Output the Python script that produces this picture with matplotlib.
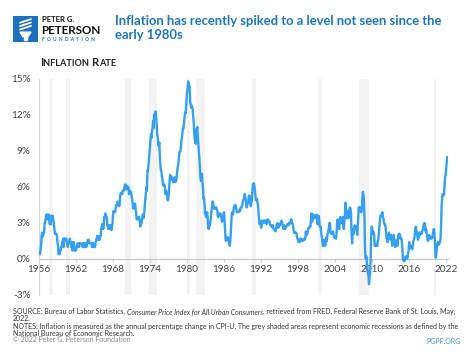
import matplotlib
matplotlib.use("Agg")
import matplotlib.pyplot as plt
from matplotlib.text import Annotation
from matplotlib.patches import Rectangle, Polygon
import numpy as np

# monthly CPI-U change over 12 months, %, Jan 1956 .. Apr 2022
inflation = [
    0.4, 0.4, 0.4, 0.8, 1.1, 1.9, 2.2, 1.9, 1.9, 2.2, 2.2, 3.0,   # 1956
    3.0, 3.4, 3.7, 3.7, 3.7, 3.3, 3.3, 3.7, 3.3, 2.9, 3.3, 2.9,   # 1957
    3.6, 3.3, 3.6, 3.6, 3.2, 2.9, 2.5, 2.1, 2.1, 2.1, 2.1, 1.8,   # 1958
    1.4, 1.1, 0.4, 0.4, 0.4, 0.7, 0.7, 1.0, 1.0, 1.4, 1.4, 1.7,   # 1959
    1.0, 1.7, 1.7, 1.7, 1.7, 1.7, 1.4, 1.4, 1.0, 1.4, 1.4, 1.4,   # 1960
    1.7, 1.4, 1.4, 1.0, 1.0, 0.7, 1.4, 1.0, 1.4, 0.7, 0.7, 0.7,   # 1961
    0.7, 1.0, 1.0, 1.3, 1.3, 1.3, 1.0, 1.3, 1.3, 1.3, 1.3, 1.3,   # 1962
    1.3, 1.0, 1.3, 1.0, 1.0, 1.3, 1.3, 1.3, 1.0, 1.3, 1.3, 1.6,   # 1963
    1.6, 1.6, 1.3, 1.3, 1.3, 1.3, 1.3, 1.0, 1.3, 1.0, 1.3, 1.0,   # 1964
    1.0, 1.0, 1.3, 1.6, 1.6, 1.9, 1.6, 1.9, 1.6, 1.9, 1.6, 1.9,   # 1965
    1.9, 2.6, 2.6, 2.9, 2.9, 2.5, 2.9, 3.5, 3.5, 3.8, 3.5, 3.5,   # 1966
    3.5, 2.8, 2.8, 2.5, 2.8, 2.8, 2.8, 2.5, 2.8, 2.4, 2.7, 3.0,   # 1967
    3.7, 4.0, 3.9, 3.9, 3.9, 4.2, 4.5, 4.5, 4.5, 4.8, 4.7, 4.7,   # 1968
    4.4, 4.7, 5.3, 5.5, 5.5, 5.5, 5.4, 5.7, 5.7, 5.7, 5.9, 6.2,   # 1969
    6.2, 6.2, 5.8, 6.1, 6.0, 6.0, 6.0, 5.4, 5.7, 5.6, 5.6, 5.6,   # 1970
    5.3, 5.0, 4.7, 4.2, 4.4, 4.6, 4.4, 4.6, 4.1, 3.8, 3.3, 3.3,   # 1971
    3.3, 3.5, 3.5, 3.5, 3.2, 2.7, 3.0, 2.9, 3.2, 3.4, 3.7, 3.4,   # 1972
    3.7, 3.9, 4.6, 5.1, 5.5, 6.0, 5.7, 7.4, 7.4, 7.8, 8.3, 8.7,   # 1973
    9.4, 10.0, 10.4, 10.1, 10.7, 10.9, 11.5, 10.9, 12.0, 12.1, 12.2, 12.3,   # 1974
    11.8, 11.2, 10.3, 10.2, 9.5, 9.4, 9.7, 8.6, 7.9, 7.4, 7.4, 6.9,   # 1975
    6.7, 6.3, 6.1, 6.1, 6.2, 6.0, 5.4, 5.7, 5.5, 5.5, 4.9, 4.9,   # 1976
    5.2, 5.9, 6.4, 7.0, 6.7, 6.9, 6.8, 6.6, 6.6, 6.4, 6.7, 6.7,   # 1977
    6.8, 6.4, 6.6, 6.5, 7.0, 7.4, 7.7, 7.9, 8.3, 8.9, 8.9, 9.0,   # 1978
    9.3, 9.9, 10.1, 10.5, 10.9, 10.9, 11.3, 11.8, 12.2, 12.1, 12.6, 13.3,   # 1979
    13.9, 14.2, 14.8, 14.7, 14.4, 14.4, 13.1, 12.9, 12.6, 12.8, 12.6, 12.5,   # 1980
    11.8, 11.4, 10.5, 10.0, 9.8, 9.6, 10.8, 10.8, 11.0, 10.1, 9.6, 8.9,   # 1981
    8.4, 7.6, 6.8, 6.5, 6.7, 7.1, 6.4, 5.9, 5.0, 5.1, 4.6, 3.8,   # 1982
    3.7, 3.5, 3.6, 3.9, 3.5, 2.6, 2.5, 2.6, 2.9, 2.9, 3.3, 3.8,   # 1983
    4.2, 4.6, 4.8, 4.6, 4.2, 4.2, 4.2, 4.3, 4.3, 4.3, 4.1, 4.0,   # 1984
    3.5, 3.5, 3.7, 3.7, 3.8, 3.8, 3.6, 3.4, 3.1, 3.2, 3.5, 3.8,   # 1985
    3.9, 3.1, 2.3, 1.6, 1.5, 1.8, 1.6, 1.6, 1.8, 1.5, 1.3, 1.1,   # 1986
    1.5, 2.1, 3.0, 3.8, 3.9, 3.7, 3.9, 4.3, 4.4, 4.5, 4.5, 4.4,   # 1987
    4.1, 3.9, 3.9, 3.9, 3.9, 4.0, 4.1, 4.0, 4.2, 4.3, 4.3, 4.4,   # 1988
    4.7, 4.8, 5.0, 5.1, 5.4, 5.2, 5.0, 4.7, 4.3, 4.5, 4.7, 4.7,   # 1989
    5.2, 5.3, 5.2, 4.7, 4.4, 4.7, 4.8, 5.6, 6.2, 6.3, 6.3, 6.1,   # 1990
    5.7, 5.3, 4.9, 4.9, 5.0, 4.7, 4.5, 3.8, 3.4, 2.9, 3.0, 3.1,   # 1991
    2.6, 2.8, 3.2, 3.2, 3.0, 3.1, 3.2, 3.2, 3.0, 3.2, 3.1, 2.9,   # 1992
    3.3, 3.3, 3.1, 3.2, 3.2, 3.0, 2.8, 2.8, 2.7, 2.8, 2.7, 2.8,   # 1993
    2.5, 2.5, 2.5, 2.4, 2.3, 2.5, 2.8, 2.9, 3.0, 2.6, 2.7, 2.7,   # 1994
    2.8, 2.9, 2.9, 3.1, 3.2, 3.0, 2.8, 2.6, 2.5, 2.8, 2.6, 2.5,   # 1995
    2.7, 2.7, 2.8, 2.9, 2.9, 2.8, 3.0, 2.9, 3.0, 3.0, 3.3, 3.3,   # 1996
    3.0, 3.0, 2.8, 2.5, 2.2, 2.3, 2.2, 2.2, 2.2, 2.1, 1.8, 1.7,   # 1997
    1.6, 1.4, 1.4, 1.4, 1.7, 1.7, 1.7, 1.6, 1.5, 1.5, 1.6, 1.6,   # 1998
    1.7, 1.6, 1.7, 2.3, 2.1, 2.0, 2.1, 2.3, 2.6, 2.6, 2.6, 2.7,   # 1999
    2.7, 3.2, 3.8, 3.1, 3.2, 3.7, 3.7, 3.4, 3.5, 3.5, 3.5, 3.4,   # 2000
    3.7, 3.5, 2.9, 3.3, 3.6, 3.3, 2.7, 2.7, 2.7, 2.1, 1.9, 1.6,   # 2001
    1.1, 1.1, 1.5, 1.6, 1.2, 1.1, 1.5, 1.8, 1.5, 2.0, 2.2, 2.4,   # 2002
    2.6, 3.0, 3.0, 2.2, 2.1, 2.1, 2.1, 2.2, 2.3, 2.0, 1.8, 1.9,   # 2003
    1.9, 1.7, 1.7, 2.3, 3.1, 3.3, 3.0, 2.7, 2.5, 3.2, 3.5, 3.3,   # 2004
    3.0, 3.0, 3.2, 3.5, 2.8, 2.5, 3.2, 3.6, 4.7, 4.4, 3.5, 3.4,   # 2005
    4.0, 3.6, 3.4, 3.6, 4.2, 4.3, 4.2, 3.8, 2.1, 1.3, 2.0, 2.5,   # 2006
    2.1, 2.4, 2.8, 2.6, 2.7, 2.7, 2.4, 2.0, 2.8, 3.5, 4.3, 4.1,   # 2007
    4.3, 4.0, 4.0, 3.9, 4.2, 5.0, 5.6, 5.4, 4.9, 3.7, 1.1, 0.1,   # 2008
    0.0, 0.2, -0.4, -0.7, -1.3, -1.4, -2.1, -1.5, -1.3, -0.2, 1.8, 2.7,   # 2009
    2.6, 2.1, 2.3, 2.2, 2.0, 1.1, 1.2, 1.1, 1.1, 1.2, 1.1, 1.5,   # 2010
    1.6, 2.1, 2.7, 3.2, 3.6, 3.6, 3.6, 3.8, 3.9, 3.5, 3.4, 3.0,   # 2011
    2.9, 2.9, 2.7, 2.3, 1.7, 1.7, 1.4, 1.7, 2.0, 2.2, 1.8, 1.7,   # 2012
    1.6, 2.0, 1.5, 1.1, 1.4, 1.8, 2.0, 1.5, 1.2, 1.0, 1.2, 1.5,   # 2013
    1.6, 1.1, 1.5, 2.0, 2.1, 2.1, 2.0, 1.7, 1.7, 1.7, 1.3, 0.8,   # 2014
    -0.1, 0.0, -0.1, -0.2, 0.0, 0.2, 0.2, 0.2, 0.0, 0.2, 0.5, 0.7,   # 2015
    1.4, 1.0, 0.9, 1.1, 1.0, 1.0, 0.8, 1.1, 1.5, 1.6, 1.7, 2.1,   # 2016
    2.5, 2.7, 2.4, 2.2, 1.9, 1.6, 1.7, 1.9, 2.2, 2.0, 2.2, 2.1,   # 2017
    2.1, 2.2, 2.4, 2.5, 2.8, 2.9, 3.0, 2.7, 2.3, 2.5, 2.2, 1.9,   # 2018
    1.6, 1.5, 1.9, 2.0, 1.8, 1.7, 1.8, 1.8, 1.7, 1.8, 2.1, 2.3,   # 2019
    2.5, 2.3, 1.5, 0.3, 0.1, 0.6, 1.0, 1.3, 1.4, 1.2, 1.2, 1.4,   # 2020
    1.4, 1.7, 2.6, 4.2, 5.0, 5.4, 5.4, 5.3, 5.4, 6.2, 6.8, 7.0,   # 2021
    7.5, 7.9, 8.5, 8.3,                                           # 2022
]

# NBER recessions (start, end) in decimal years
recession_start = [1957.6, 1960.3, 1969.9, 1973.85, 1980.0, 1981.5, 1990.5, 2001.2, 2007.9, 2020.1]
recession_end = [1958.3, 1961.1, 1970.9, 1975.2, 1980.5, 1982.85, 1991.2, 2001.85, 2009.5, 2020.35]

year_ticks = [1956, 1962, 1968, 1974, 1980, 1986, 1992, 1998, 2004, 2010, 2016, 2022]
pct_ticks = [-3, 0, 3, 6, 9, 12, 15]

BLUE_LINE = "#35a0f2"
TITLE_BLUE = "#1f75be"
LOGO_BLUE = "#1d6fc0"

plt.rcParams["font.family"] = ["Lato", "DejaVu Sans"]

W, H = 474, 355
fig = plt.figure(figsize=(W / 100, H / 100), dpi=100)


def fx(px):
    return px / W


def fy(py):
    return 1 - py / H


def chain(prev, txt, **kw):
    # put txt right after the previous text, on the same baseline
    return fig.add_artist(Annotation(txt, xy=(1, 0), xycoords=prev,
                                     ha="left", va="bottom", **kw))


# ---- chart
ax = fig.add_axes([fx(39), fy(295), fx(447.7) - fx(39), fy(79) - fy(295)])
t = 1956 + np.arange(len(inflation)) / 12.0

for s, e in zip(recession_start, recession_end):
    ax.axvspan(s, e, color="#f3f3f3", lw=0, zorder=0)

ax.plot(t, inflation, color=BLUE_LINE, lw=1.7, zorder=3, solid_joinstyle="round")

ax.set_xlim(1956, 2022.25)
ax.set_ylim(-3, 15)
ax.set_yticks(pct_ticks)
ax.set_yticklabels(["%d%%" % v for v in pct_ticks])
ax.set_xticks(year_ticks)
ax.set_xticklabels([str(y) for y in year_ticks])

for side in ["top", "right"]:
    ax.spines[side].set_visible(False)
ax.spines["left"].set_color("#d6d6d6")
ax.spines["left"].set_linewidth(0.8)
ax.spines["bottom"].set_position(("data", 0))
ax.spines["bottom"].set_color("#c8c8c8")
ax.spines["bottom"].set_linewidth(0.9)
ax.spines["bottom"].set_zorder(2)

ax.tick_params(axis="y", length=0, pad=6, labelsize=7.2, labelcolor="#444444")
ax.tick_params(axis="x", length=2.5, width=0.8, color="#c8c8c8", pad=2,
               labelsize=7.2, labelcolor="#444444")
ax.patch.set_visible(False)

# ---- header
title = ("Inflation has recently spiked to a level not seen since the\n"
         "early 1980s")
fig.text(fx(115), fy(15), title, color=TITLE_BLUE, fontsize=9.4,
         fontweight="bold", va="top", ha="left", linespacing=1.2)

# logo
logo = fig.add_axes([fx(13), fy(42), fx(38) - fx(13), fy(16) - fy(42)])
logo.set_xlim(0, 1)
logo.set_ylim(0, 1)
logo.axis("off")
logo.add_patch(Rectangle((0, 0), 1, 1, color=LOGO_BLUE))
logo.add_patch(Polygon([(0.28, 0.38), (0.72, 0.38), (0.6, 0.2), (0.4, 0.2)], color="white"))
logo.add_patch(Rectangle((0.44, 0.08), 0.12, 0.12, color="white"))
for off in [0.0, 0.13, 0.26]:
    logo.plot([0.28, 0.72], [0.48 + off, 0.62 + off], color="white", lw=1.3,
              solid_capstyle="round")

fig.text(fx(42), fy(22.5), "PETER G.", fontsize=5.6, fontweight="bold", color="#111111",
         ha="left", va="baseline")
fig.text(fx(41.5), fy(33.5), "PETERSON", fontsize=8.4, fontweight="bold", color="#111111",
         ha="left", va="baseline")
fig.text(fx(42.5), fy(41), "F  O  U  N  D  A  T  I  O  N", fontsize=3.5, fontweight="bold",
         color=LOGO_BLUE, ha="left", va="baseline")

# small-caps subtitle
sub = fig.text(fx(40), fy(66), "I", fontsize=8.2, fontweight="bold", color="#222222",
               ha="left", va="baseline")
sub = chain(sub, "NFLATION ", fontsize=6.6, fontweight="bold", color="#222222")
sub = chain(sub, "R", fontsize=8.2, fontweight="bold", color="#222222")
chain(sub, "ATE", fontsize=6.6, fontweight="bold", color="#222222")

# ---- footer
FOOT = 5.0
FOOT_C = "#333333"
a = fig.text(fx(13), fy(314), "SOURCE: Bureau of Labor Statistics, ", fontsize=FOOT,
             color=FOOT_C, ha="left", va="baseline")
b = chain(a, "Consumer Price Index for All Urban Consumers", fontsize=FOOT,
          color=FOOT_C, style="italic")
chain(b, ", retrieved from FRED, Federal Reserve Bank of St. Louis, May,",
      fontsize=FOOT, color=FOOT_C)
fig.text(fx(13), fy(321), "2022.", fontsize=FOOT, color=FOOT_C, ha="left", va="baseline")
fig.text(fx(13), fy(328.5), "NOTES: Inflation is measured as the annual percentage change in CPI-U. "
         "The grey shaded areas represent economic recessions as defined by the",
         fontsize=FOOT, color=FOOT_C, ha="left", va="baseline")
fig.text(fx(13), fy(335.5), "National Bureau of Economic Research.", fontsize=FOOT,
         color=FOOT_C, ha="left", va="baseline")
fig.text(fx(13), fy(342), "\u00a9 2022 Peter G. Peterson Foundation", fontsize=FOOT,
         color="#888888", ha="left", va="baseline")
fig.text(fx(461), fy(344.5), "PGPF.ORG", fontsize=FOOT, color="#3d8fd1",
         ha="right", va="baseline")

fig.savefig("out.png", dpi=100)
